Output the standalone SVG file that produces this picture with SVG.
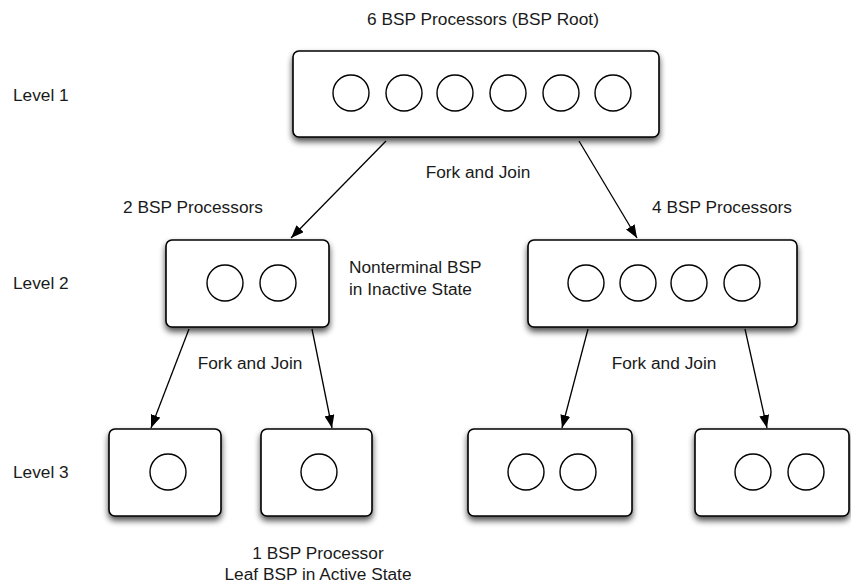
<svg xmlns="http://www.w3.org/2000/svg" width="851" height="585" viewBox="0 0 851 585">
  <defs>
    <filter id="shadow" x="-10%" y="-10%" width="120%" height="140%">
      <feGaussianBlur in="SourceAlpha" stdDeviation="3"/>
      <feOffset dx="0" dy="4" result="b"/>
      <feComponentTransfer><feFuncA type="linear" slope="0.7"/></feComponentTransfer>
      <feMerge><feMergeNode/><feMergeNode in="SourceGraphic"/></feMerge>
    </filter>
    <marker id="arrow" viewBox="0 0 13 10" refX="13" refY="5" markerWidth="13" markerHeight="10" markerUnits="userSpaceOnUse" orient="auto">
      <path d="M0,0 L13,5 L0,10 Z" fill="#000"/>
    </marker>
  </defs>
  <style>
    .box { fill: #fff; stroke: #000; stroke-width: 1.6; }
    .cpu { fill: #fff; stroke: #000; stroke-width: 1.4; }
    .edge { stroke: #000; stroke-width: 1.3; fill: none; marker-end: url(#arrow); }
    text { font-family: "Liberation Sans", Arial, Helvetica, sans-serif; font-size: 17.3px; fill: #1a1a1a; }
    .mid { text-anchor: middle; }
  </style>
  <rect width="851" height="585" fill="#fff"/>

  <!-- level labels -->
  <text x="13" y="101">Level 1</text>
  <text x="13" y="289">Level 2</text>
  <text x="13" y="478">Level 3</text>

  <!-- annotations -->
  <text class="mid" x="483" y="25">6 BSP Processors (BSP Root)</text>
  <text class="mid" x="478" y="178">Fork and Join</text>
  <text x="123" y="213">2 BSP Processors</text>
  <text x="652" y="213">4 BSP Processors</text>
  <text x="349" y="273">Nonterminal BSP</text>
  <text x="349" y="295">in Inactive State</text>
  <text class="mid" x="250" y="369">Fork and Join</text>
  <text class="mid" x="664" y="369">Fork and Join</text>
  <text class="mid" x="318" y="559">1 BSP Processor</text>
  <text class="mid" x="318" y="580">Leaf BSP in Active State</text>

  <!-- connectors -->
  <g id="connectors">
    <line class="edge" x1="386" y1="141" x2="291" y2="238"/>
    <line class="edge" x1="579" y1="141" x2="637" y2="238"/>
    <line class="edge" x1="189" y1="329" x2="151" y2="428"/>
    <line class="edge" x1="312" y1="329" x2="332" y2="428"/>
    <line class="edge" x1="588" y1="329" x2="562" y2="428"/>
    <line class="edge" x1="745" y1="329" x2="767" y2="428"/>
  </g>

  <!-- root node: 6 processors -->
  <g id="root" filter="url(#shadow)">
    <rect class="box" x="293" y="51" width="366" height="86" rx="6"/>
    <circle class="cpu" cx="351" cy="93" r="18"/>
    <circle class="cpu" cx="404" cy="93" r="18"/>
    <circle class="cpu" cx="455" cy="93" r="18"/>
    <circle class="cpu" cx="508" cy="93" r="18"/>
    <circle class="cpu" cx="561" cy="93" r="18"/>
    <circle class="cpu" cx="613" cy="93" r="18"/>
  </g>

  <!-- level 2: 2 processors -->
  <g id="l2-left" filter="url(#shadow)">
    <rect class="box" x="166" y="240" width="163" height="87" rx="6"/>
    <circle class="cpu" cx="225" cy="283" r="18"/>
    <circle class="cpu" cx="278" cy="283" r="18"/>
  </g>

  <!-- level 2: 4 processors -->
  <g id="l2-right" filter="url(#shadow)">
    <rect class="box" x="528" y="240" width="269" height="87" rx="6"/>
    <circle class="cpu" cx="586" cy="283" r="18"/>
    <circle class="cpu" cx="638" cy="283" r="18"/>
    <circle class="cpu" cx="689" cy="283" r="18"/>
    <circle class="cpu" cx="742" cy="283" r="18"/>
  </g>

  <!-- level 3 leaves -->
  <g id="l3-a" filter="url(#shadow)">
    <rect class="box" x="109" y="429" width="112" height="87" rx="6"/>
    <circle class="cpu" cx="168" cy="472" r="18"/>
  </g>
  <g id="l3-b" filter="url(#shadow)">
    <rect class="box" x="261" y="429" width="111" height="87" rx="6"/>
    <circle class="cpu" cx="319" cy="472" r="18"/>
  </g>
  <g id="l3-c" filter="url(#shadow)">
    <rect class="box" x="468" y="429" width="164" height="87" rx="6"/>
    <circle class="cpu" cx="526" cy="472" r="18"/>
    <circle class="cpu" cx="578" cy="472" r="18"/>
  </g>
  <g id="l3-d" filter="url(#shadow)">
    <rect class="box" x="695" y="429" width="154" height="87" rx="6"/>
    <circle class="cpu" cx="753" cy="472" r="18"/>
    <circle class="cpu" cx="806" cy="472" r="18"/>
  </g>
</svg>
